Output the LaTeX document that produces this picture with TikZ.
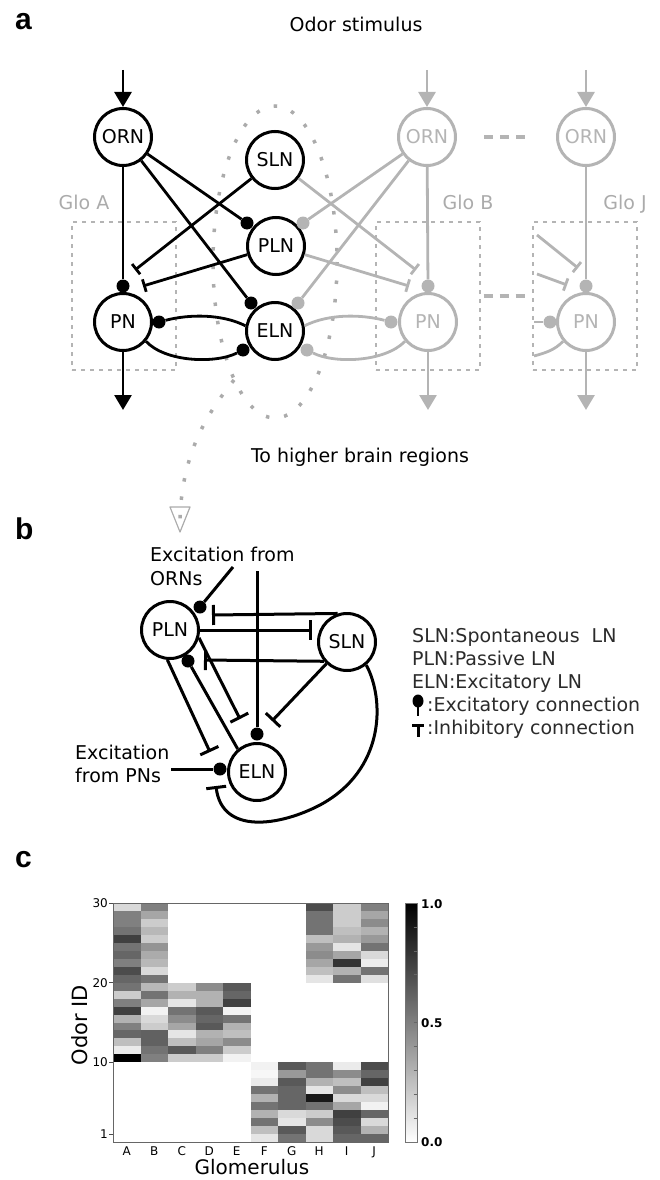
\documentclass[tikz,border=0pt]{standalone}
\usepackage{fontspec}
\setmainfont{DejaVu Sans}
\newfontfamily\panelfont{Liberation Sans}
\usetikzlibrary{arrows.meta}
\definecolor{lg}{HTML}{B4B4B4}
\definecolor{dotc}{HTML}{ABABAB}
\definecolor{lgtext}{HTML}{ABABAB}
\definecolor{legtext}{HTML}{2B2B2B}
\tikzset{
  neuron/.style={circle, draw, line width=3pt, minimum size=57pt, inner sep=0pt,
    font=\fontsize{19}{23}\selectfont, fill=white},
  gneuron/.style={neuron, draw=lg, text=lg},
  syn/.style={circle, fill, inner sep=0pt, minimum size=13pt},
  gsyn/.style={syn, fill=lg},
  conn/.style={line width=2.8pt},
  gconn/.style={conn, draw=lg},
  bconn/.style={line width=3pt},
  inh/.style={-{Bar[width=13pt]}},
  inhb/.style={-{Bar[width=20pt]}},
  feed/.style={-{Triangle[width=17pt,length=15pt]}},
  globox/.style={draw=lg, line width=1.4pt, dash pattern=on 4pt off 5pt,
    minimum width=104pt, minimum height=148pt, inner sep=0pt},
  dotline/.style={draw=dotc, line width=3.5pt, dash pattern=on 3.5pt off 15pt},
  gbridge/.style={draw=lg, line width=4.5pt, dash pattern=on 9pt off 7pt},
  lbl/.style={font=\fontsize{19}{23}\selectfont, inner sep=0pt},
  panel/.style={font=\panelfont\bfseries\fontsize{30}{30}\selectfont, anchor=base west, inner sep=0pt},
  ticklbl/.style={font=\fontsize{12}{14}\selectfont, inner sep=0pt},
}
\begin{document}
\begin{tikzpicture}[x=1pt,y=-1pt]
\useasboundingbox (0,0) rectangle (660,1180);

% ---------------- panel a ----------------
\node[panel] at (15,30) {a};
\node[lbl, anchor=base] at (356,32) {Odor stimulus};
\node[lbl, anchor=base] at (360,462) {To higher brain regions};

% glomerulus boxes
\node[globox] (boxA) at (124,296) {};
\node[globox] (boxB) at (428,296) {};
\node[globox] (boxJ) at (585,296) {};
\node[lbl, text=lgtext, anchor=base] at (84,209) {Glo A};
\node[lbl, text=lgtext, anchor=base] at (468,209) {Glo B};
\node[lbl, text=lgtext, anchor=base] at (625,209) {Glo J};

% local neuron population outline and its pointer to panel b
\draw[dotline] (275,262) ellipse [x radius=62, y radius=156];
\draw[dotline] (234,380) .. controls (210,410) and (182,450) .. (180,519);
\draw[dotc, line width=1.2pt, line join=round] (170,507) -- (190,507) -- (180,532) -- cycle;

% neurons
\node[neuron] (ORN) at (123,137) {ORN};
\node[neuron] (SLN) at (275,160) {SLN};
\node[neuron] (PLN) at (276,246) {PLN};
\node[neuron] (ELN) at (275,331) {ELN};
\node[neuron] (PN) at (123,322) {PN};
\node[gneuron] (ORNB) at (427,137) {ORN};
\node[gneuron] (ORNJ) at (586,137) {ORN};
\node[gneuron] (PNB) at (428,322) {PN};
\node[gneuron] (PNJ) at (586,322) {PN};

% glomeruli continue
\draw[gbridge, shorten <=27pt, shorten >=29pt] (ORNB) -- (ORNJ);
\draw[gbridge, shorten <=3pt, shorten >=5pt] (boxB) -- (boxJ);

% inputs and outputs
\coordinate (inA) at (123,70);  \coordinate (outA) at (123,410);
\coordinate (inB) at (427,70);  \coordinate (outB) at (428,410);
\coordinate (inJ) at (586,70);  \coordinate (outJ) at (586,410);
\draw[conn,feed] (inA) -- (ORN);
\draw[conn,feed] (PN) -- (outA);
\draw[gconn,feed] (inB) -- (ORNB);
\draw[gconn,feed] (PNB) -- (outB);
\draw[gconn,feed] (inJ) -- (ORNJ);
\draw[gconn,feed] (PNJ) -- (outJ);

% glomerulus A synapses
\node[syn] (sPNt) at (123,286) {};
\node[syn] (sPLN) at (247,223) {};
\node[syn] (sELNt) at (251,303) {};
\node[syn] (sPNr) at (159,322) {};
\node[syn] (sELNb) at (243,350) {};
\coordinate (iPN1) at (135,270);
\coordinate (iPN2) at (143,286);
\draw[conn] (ORN) -- (sPNt);
\draw[conn] (ORN) -- (sPLN);
\draw[conn] (ORN) -- (sELNt);
\draw[conn,inh] (SLN) -- (iPN1);
\draw[conn,inh] (PLN) -- (iPN2);
\draw[conn] (ELN.170) .. controls (222,314) and (190,314) .. (sPNr);
\draw[conn] (PN.-40) .. controls (165,362) and (215,364) .. (sELNb);

% glomerulus B synapses
\node[gsyn] (gPLN) at (303,223) {};
\node[gsyn] (gELNt) at (298,303) {};
\node[gsyn] (gPNBt) at (428,286) {};
\node[gsyn] (gPNBl) at (391,322) {};
\node[gsyn] (gELNb) at (307,350) {};
\coordinate (iB1) at (416,270);
\coordinate (iB2) at (409,286);
\draw[gconn] (ORNB) -- (gPLN);
\draw[gconn] (ORNB) -- (gELNt);
\draw[gconn] (ORNB) -- (gPNBt);
\draw[gconn,inh] (SLN) -- (iB1);
\draw[gconn,inh] (PLN) -- (iB2);
\draw[gconn] (ELN.10) .. controls (328,314) and (360,314) .. (gPNBl);
\draw[gconn] (PNB.-140) .. controls (385,362) and (335,364) .. (gELNb);

% glomerulus J synapses
\node[gsyn] (gPNJt) at (586,286) {};
\node[gsyn] (gPNJl) at (550,322) {};
\coordinate (jS1) at (537,235); \coordinate (iJ1) at (578,268);
\coordinate (jS2) at (537,274); \coordinate (iJ2) at (567,285);
\coordinate (jS3) at (534,322); \coordinate (jS4) at (534,356);
\draw[gconn] (ORNJ) -- (gPNJt);
\draw[gconn,inh] (jS1) -- (iJ1);
\draw[gconn,inh] (jS2) -- (iJ2);
\draw[gconn] (jS3) -- (gPNJl);
\draw[gconn] (PNJ.-140) .. controls (555,350) and (545,353) .. (jS4);

% ---------------- panel b ----------------
\node[panel] at (15,539) {b};
\node[neuron] (bPLN) at (170,630) {PLN};
\node[neuron] (bSLN) at (347,642) {SLN};
\node[neuron] (bELN) at (257,772) {ELN};
\node[syn] (bsP1) at (200,607) {};
\node[syn] (bsE1) at (257,734) {};
\node[syn] (bsP2) at (188,661) {};
\node[syn] (bsE2) at (220,769) {};
\coordinate (bi1) at (212,615);
\coordinate (bi2) at (312,630);
\coordinate (bi3) at (204,660);
\coordinate (bi4) at (210,752);
\coordinate (bi5) at (240,719);
\coordinate (bi6) at (272,721);
\coordinate (bi7) at (216,786);
\coordinate (eo) at (233,567);
\coordinate (ev) at (257,571);
\coordinate (epn) at (171,769);

\node[lbl, anchor=base west] at (150,561) {Excitation from};
\node[lbl, anchor=base west] at (150,585) {ORNs};
\node[lbl, anchor=base west] at (75,759) {Excitation};
\node[lbl, anchor=base west] at (75,782) {from PNs};

\draw[bconn] (eo) -- (bsP1);
\draw[bconn] (ev) -- (bsE1);
\draw[bconn] (epn) -- (bsE2);
\draw[bconn,inhb] (bSLN.108) -- (bi1);
\draw[bconn,inhb] (bPLN.east) -- (bi2);
\draw[bconn,inhb] (bSLN.-140) -- (bi3);
\draw[bconn,inhb] (bPLN.265) -- (bi4);
\draw[bconn,inhb] (bPLN.-15) -- (bi5);
\draw[bconn,inhb] (bSLN) -- (bi6);
\draw[bconn] (bELN.130) -- (bsP2);
\draw[bconn,inhb] (bSLN.-50) .. controls (385,700) and (385,770) .. (320,805)
   .. controls (280,826) and (222,835) .. (bi7);

% legend
\node[lbl, text=legtext, anchor=base west] at (412,642) {SLN:Spontaneous\ \ LN};
\node[lbl, text=legtext, anchor=base west] at (412,665) {PLN:Passive LN};
\node[lbl, text=legtext, anchor=base west] at (412,688) {ELN:Excitatory LN};
\node[lbl, text=legtext, anchor=base west] at (427,711) {:Excitatory connection};
\node[lbl, text=legtext, anchor=base west] at (427,734) {:Inhibitory connection};
\fill (418,701) ellipse [x radius=5.5, y radius=6.5];
\draw[line width=2.5pt] (418,705) -- (418,716);
\draw[line width=3pt] (412,725.5) -- (424,725.5);
\draw[line width=3pt] (418,725) -- (418,737);

% ---------------- panel c ----------------
\node[panel] at (15,867) {c};
\foreach \c/\top/\vals in {
  0/30/{15,50,50,55,75,55,60,50,70,60,55,20,50,75,30,50,60,25,8,100},
  1/30/{50,35,20,28,20,42,33,28,15,55,28,55,35,5,15,20,62,62,55,50},
  2/20/{20,30,10,55,45,35,10,25,65,20},
  3/20/{45,30,30,65,60,65,30,35,50,20},
  4/20/{65,60,75,5,55,30,25,45,20,5},
  5/10/{5,3,8,55,30,55,30,55,25,10},
  6/10/{65,40,65,60,60,60,15,10,65,55},
  7/30/{70,55,55,55,25,40,45,35,25,10},
  7/10/{55,55,30,10,90,55,20,45,15,15},
  8/30/{20,20,20,25,30,10,35,80,30,55},
  8/10/{8,45,25,45,15,35,75,70,65,60},
  9/30/{50,35,45,30,40,55,15,7,55,12},
  9/10/{70,60,75,25,15,5,60,15,30,60}} {
  \foreach \v [count=\i from 0] in \vals {
    \fill[black!\v] ({113+27.5*\c},{903+(30-\top+\i)*7.967}) rectangle ++(27.6,8.05);
  }
}
\draw[black!60, line width=0.8pt] (113,903) rectangle (388,1142);
\foreach \r in {30,20,10,1} {
  \draw[black!70, line width=0.7pt] (109,{1142-\r*7.967}) -- (113,{1142-\r*7.967});
  \node[ticklbl, anchor=east] at (108,{1142-\r*7.967}) {\r};
}
\foreach \g [count=\k from 0] in {A,B,C,D,E,F,G,H,I,J} {
  \node[ticklbl, anchor=base] at ({113+27.5*(\k+0.5)},1155) {\g};
}
\node[font=\fontsize{20}{24}\selectfont, anchor=base, inner sep=0pt] at (252,1174) {Glomerulus};
\node[font=\fontsize{21}{25}\selectfont, anchor=base, inner sep=0pt, rotate=90] at (87,1025) {Odor ID};

% colour bar
\shade[top color=black, bottom color=white] (405,903) rectangle (417,1142);
\draw[black!55, line width=0.8pt] (405,903) rectangle (417,1142);
\foreach \k in {1,...,9} {
  \draw[black!60, line width=0.6pt] (413.5,{1142-\k*23.9}) -- (417,{1142-\k*23.9});
}
\node[ticklbl, font=\bfseries\fontsize{12}{14}\selectfont, anchor=west] at (421,904) {1.0};
\node[ticklbl, font=\bfseries\fontsize{12}{14}\selectfont, anchor=west] at (421,1023) {0.5};
\node[ticklbl, font=\bfseries\fontsize{12}{14}\selectfont, anchor=west] at (421,1142) {0.0};
\end{tikzpicture}
\end{document}
